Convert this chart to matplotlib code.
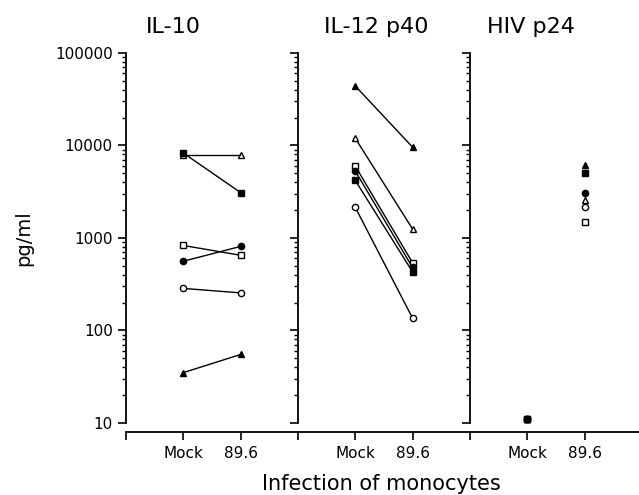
import numpy as np
import matplotlib.pyplot as plt
from matplotlib.ticker import LogLocator, NullFormatter

# donors, one marker style each
markers = ['s', '^', 's', 'o', 'o', '^']
filled = [True, False, False, True, False, True]

il10_mock = [8300, 7800, 830, 560, 285, 35]
il10_hiv = [3100, 7800, 650, 810, 255, 55]
il12_mock = [4200, 12000, 6000, 5300, 2150, 44000]
il12_hiv = [430, 1250, 540, 480, 136, 9600]
p24_mock = [11, 11, 11, 11, 11, 11]
p24_hiv = [5000, 2600, 1500, 3050, 2150, 6100]

panels = ['IL-10', 'IL-12 p40', 'HIV p24']
tick_pos = [0, 1, 2, 3, 4, 5, 6, 7, 8]
tick_labels = ['', 'Mock', '89.6', '', 'Mock', '89.6', '', 'Mock', '89.6']
decades = [10, 100, 1000, 10000, 100000]
xmax = 8.95

fig = plt.figure(figsize=(6.39, 4.95), dpi=100)
L, B, W, H = 0.197, 0.1455, 0.803, 0.7475
ax = fig.add_axes([L, B, W, H])
ax.set_yscale('log')
ax.set_xlim(0, xmax)
ax.set_ylim(10, 100000)

def draw(x0, mock, hiv, connect=True):
    for m, f, a, b in zip(markers, filled, mock, hiv):
        fc = 'black' if f else 'white'
        z = 4 if (m == 's' and f) else 3
        ax.plot([x0, x0 + 1], [a, b], color='black',
                lw=1.0 if connect else 0, marker=m, markersize=4.5,
                markerfacecolor=fc, markeredgecolor='black',
                markeredgewidth=1.0, zorder=z, clip_on=False)

draw(1, il10_mock, il10_hiv)
draw(4, il12_mock, il12_hiv)
draw(7, p24_mock, p24_hiv, connect=False)

for s in ['top', 'right']:
    ax.spines[s].set_visible(False)
ax.spines['bottom'].set_position(('outward', 6.5))
ax.spines['bottom'].set_linewidth(1.3)
ax.spines['left'].set_linewidth(1.3)

ax.set_xticks(tick_pos)
ax.set_xticklabels(tick_labels, fontsize=11)
ax.tick_params(axis='x', direction='out', length=6, width=1.2, pad=4)

def style_y(a, labels):
    a.yaxis.set_major_locator(LogLocator(base=10))
    a.yaxis.set_minor_locator(LogLocator(base=10, subs=np.arange(2, 10)))
    a.yaxis.set_minor_formatter(NullFormatter())
    a.tick_params(axis='y', which='major', direction='out', length=6, width=1.2,
                  labelsize=11, labelleft=labels, right=False)
    a.tick_params(axis='y', which='minor', direction='out', length=3, width=1.0,
                  right=False)

ax.set_yticks(decades)
ax.set_yticklabels([str(d) for d in decades])
style_y(ax, True)

# extra y axes for panels 2 and 3
for xpos in [3, 6]:
    sub = fig.add_axes([L + xpos / xmax * W, B, 0.0001, H], sharey=ax)
    sub.patch.set_visible(False)
    for s in ['top', 'right', 'bottom']:
        sub.spines[s].set_visible(False)
    sub.spines['left'].set_linewidth(1.3)
    sub.set_xticks([])
    style_y(sub, False)

for name, xc in zip(panels, [173, 376, 531]):
    fig.text(xc / 639, 1 - 33 / 495, name, fontsize=16, ha='center', va='baseline')

fig.text(381 / 639, 1 - 490 / 495, 'Infection of monocytes', fontsize=15,
         ha='center', va='baseline')
fig.text(24 / 639, 1 - 238 / 495, 'pg/ml', fontsize=14, rotation=90,
         ha='center', va='center')

fig.savefig('out.png', dpi=100)
